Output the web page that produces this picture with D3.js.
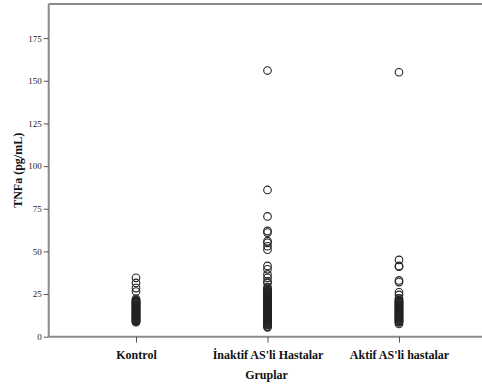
<!DOCTYPE html>
<html>
<head>
<meta charset="utf-8">
<script src="https://cdn.jsdelivr.net/npm/d3@7/dist/d3.min.js"></script>
<style>
  html, body { margin: 0; padding: 0; background: #fff; }
  svg { display: block; }
</style>
</head>
<body>
<svg id="chart" width="482" height="390"></svg>
<script>
// Groups shown on the x axis
const categories = ["Kontrol", "İnaktif AS'li Hastalar", "Aktif AS'li hastalar"];

// TNFa (pg/mL) observations for each group
const kontrolValues = [34.5, 31.5, 28.5, 26.5, 22.2, 21.5, 21.1, 20.8, 20.4, 20.1, 19.7, 19.4,
  19.0, 18.7, 18.3, 18.0, 17.6, 17.3, 16.9, 16.6, 16.2, 15.9, 15.5, 15.2, 14.8, 14.5, 14.1,
  13.8, 13.4, 13.1, 12.7, 12.4, 12.0, 11.7, 11.3, 11.0, 10.6, 10.3, 9.9, 9.6, 9.2, 8.9, 8.5];
const inaktifValues = [156, 86, 70.5, 62, 61, 56, 55, 53, 51, 41.5, 39.5, 36.5, 34.5, 32.5, 31.5,
  29, 28, 27.2, 26.8, 26.4, 26.0, 25.6, 25.2, 24.8, 24.4, 24.0, 23.6, 23.2, 22.8, 22.4, 22.0,
  21.6, 21.2, 20.8, 20.4, 20.0, 19.6, 19.2, 18.8, 18.4, 18.0, 17.6, 17.2, 16.8, 16.4, 16.0,
  15.6, 15.2, 14.8, 14.4, 14.0, 13.6, 13.2, 12.8, 12.4, 12.0, 11.6, 11.2, 10.8, 10.4, 10.0,
  9.6, 9.2, 8.8, 8.4, 8.0, 7.6, 7.2, 6.8, 6.0, 5.5];
const aktifValues = [155, 45, 41.5, 41, 33, 32, 26, 24.5, 22.5, 21.6, 21.2, 20.8, 20.4, 20.0,
  19.6, 19.2, 18.8, 18.4, 18.0, 17.6, 17.2, 16.8, 16.4, 16.0, 15.6, 15.2, 14.8, 14.4, 14.0,
  13.6, 13.2, 12.8, 12.4, 12.0, 11.6, 11.2, 10.8, 10.4, 10.0, 9.6, 9.2, 8.8, 8.4, 7.5];

const yTicks = [0, 25, 50, 75, 100, 125, 150, 175];

const seriesByGroup = [kontrolValues, inaktifValues, aktifValues];
const points = [];
seriesByGroup.forEach((vals, i) => vals.forEach(v => points.push({ group: categories[i], value: v })));

const svg = d3.select("#chart");
const plotLeft = 48.7, plotRight = 486.3, plotTop = 4, plotBottom = 336.7;
const axisColor = "#8a8a8a";
const serif = "'Liberation Serif', 'Times New Roman', serif";

const x = d3.scalePoint().domain(categories).range([plotLeft, plotRight]).padding(0.664);
const y = d3.scaleLinear().domain([0, 195]).range([plotBottom, plotTop]);

// frame: top border
svg.append("line").attr("x1", plotLeft).attr("x2", 482).attr("y1", plotTop).attr("y2", plotTop)
  .attr("stroke", axisColor).attr("stroke-width", 2);

// y axis
const yAxis = svg.append("g").attr("transform", `translate(${plotLeft},0)`)
  .call(d3.axisLeft(y).tickValues(yTicks).tickSize(5).tickPadding(2));
yAxis.select(".domain").attr("stroke", axisColor).attr("stroke-width", 2)
  .attr("d", `M0,${plotTop}V${plotBottom}`);
yAxis.selectAll(".tick line").attr("stroke", "#555").attr("stroke-width", 1);
yAxis.selectAll(".tick text").attr("font-family", serif).attr("font-size", 9).attr("fill", "#222");

// x axis
const xAxis = svg.append("g").attr("transform", `translate(0,${plotBottom})`)
  .call(d3.axisBottom(x).tickSize(6).tickPadding(8));
xAxis.select(".domain").attr("stroke", axisColor).attr("stroke-width", 2)
  .attr("d", `M${plotLeft},0H482`);
xAxis.selectAll(".tick line").attr("stroke", "#555").attr("stroke-width", 1);
xAxis.selectAll(".tick text").attr("font-family", serif).attr("font-size", 12)
  .attr("font-weight", "bold").attr("fill", "#111").attr("dy", "0.71em");

// axis titles
svg.append("text").attr("x", (plotLeft + plotRight) / 2 - 1).attr("y", 379)
  .attr("text-anchor", "middle").attr("font-family", serif).attr("font-size", 12)
  .attr("font-weight", "bold").attr("fill", "#111").text("Gruplar");
svg.append("text").attr("transform", `translate(22,${(plotTop + plotBottom) / 2}) rotate(-90)`)
  .attr("text-anchor", "middle").attr("font-family", serif).attr("font-size", 12)
  .attr("font-weight", "bold").attr("fill", "#111").text("TNFa (pg/mL)");

// observations as open circles
svg.append("g").selectAll("circle").data(points).join("circle")
  .attr("cx", d => x(d.group))
  .attr("cy", d => y(d.value))
  .attr("r", 3.8)
  .attr("fill", "none")
  .attr("stroke", "#222")
  .attr("stroke-width", 1.1);
</script>
</body>
</html>
